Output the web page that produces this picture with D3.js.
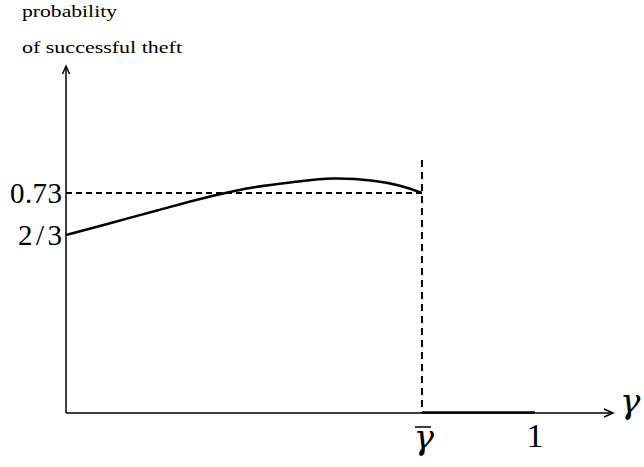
<!DOCTYPE html>
<html>
<head>
  <meta charset="utf-8">
  <script src="https://d3js.org/d3.v7.min.js"></script>
  <style>
    body { margin: 0; background: #fff; }
    text { font-family: "Liberation Serif", "Times New Roman", serif; fill: #000; }
    text.greek { font-family: "DejaVu Serif", serif; font-style: italic; }
    .curve { fill: none; stroke: #000; stroke-width: 2.5px; }
    .dash { fill: none; stroke: #000; stroke-width: 2px; }
    .axis { stroke: #000; stroke-width: 1.5px; fill: none; }
  </style>
</head>
<body>
<script>
  // gamma (0..1) and probability of a successful theft
  const gammaBar = 0.759;
  const gammaVals = [0, 0.094, 0.194, 0.286, 0.335, 0.392, 0.478, 0.569, 0.655, 0.712, gammaBar];
  const probVals = [0.6667, 0.6845, 0.7036, 0.7210, 0.7292, 0.7375, 0.7458, 0.7518, 0.7485, 0.7410, 0.73];
  // beyond gamma bar the probability drops to zero
  const zeroGamma = [gammaBar, 1];
  const yTicks = [{ v: 2 / 3, label: "2/3", w: 44 }, { v: 0.73, label: "0.73", w: 52 }];

  const width = 644, height = 467;
  const svg = d3.select("body").append("svg")
      .attr("width", width)
      .attr("height", height);

  const x = d3.scaleLinear().domain([0, 1]).range([66, 535]);
  // schematic axis: piecewise scale, zero sits on the horizontal axis
  const y = d3.scaleLinear().domain([0, 2 / 3, 0.73]).range([413, 235, 193]);

  // axes
  svg.append("line").attr("class", "axis")
    .attr("x1", x(0)).attr("y1", y(0)).attr("x2", x(0)).attr("y2", 67);
  svg.append("path").attr("class", "axis")
    .attr("d", `M${x(0) - 3.5},74 L${x(0)},66 L${x(0) + 3.5},74`);
  svg.append("line").attr("class", "axis")
    .attr("x1", x(0)).attr("y1", y(0)).attr("x2", 612).attr("y2", y(0));
  svg.append("path").attr("class", "axis")
    .attr("d", `M604,${y(0) - 4} L613,${y(0)} L604,${y(0) + 4}`);

  // dashed guides
  svg.append("line").attr("class", "dash")
    .attr("stroke-dasharray", "6,4")
    .attr("x1", x(0)).attr("x2", x(gammaBar))
    .attr("y1", y(0.73)).attr("y2", y(0.73));
  svg.append("line").attr("class", "dash")
    .attr("stroke-dasharray", "7,5")
    .attr("x1", x(gammaBar)).attr("x2", x(gammaBar))
    .attr("y1", 160).attr("y2", y(0));

  // the curve
  const pts = gammaVals.map((g, i) => [g, probVals[i]]);
  svg.append("path").attr("class", "curve")
    .attr("d", d3.line().x(d => x(d[0])).y(d => y(d[1])).curve(d3.curveCatmullRom)(pts));

  // zero segment on the axis
  svg.append("line")
    .attr("stroke", "#000").attr("stroke-width", 2.5)
    .attr("x1", x(zeroGamma[0])).attr("x2", x(zeroGamma[1]))
    .attr("y1", y(0) - 0.5).attr("y2", y(0) - 0.5);

  // y tick labels
  svg.selectAll(".ylab").data(yTicks).enter().append("text")
    .attr("class", "ylab")
    .attr("x", 62).attr("y", d => y(d.v) + 10)
    .attr("text-anchor", "end")
    .attr("textLength", d => d.w)
    .attr("lengthAdjust", "spacing")
    .style("font-size", "29px")
    .text(d => d.label);

  // x labels
  svg.append("text").attr("class", "greek")
    .attr("x", x(gammaBar) + 2).attr("y", 449)
    .attr("text-anchor", "middle")
    .style("font-size", "34px")
    .text("γ");
  svg.append("line")
    .attr("stroke", "#000").attr("stroke-width", 1.5)
    .attr("x1", x(gammaBar) - 7).attr("x2", x(gammaBar) + 9)
    .attr("y1", 427).attr("y2", 427);
  svg.append("text")
    .attr("x", x(1)).attr("y", 447)
    .attr("text-anchor", "middle")
    .style("font-size", "34px")
    .text("1");
  svg.append("text").attr("class", "greek")
    .attr("x", 620).attr("y", 413)
    .style("font-size", "34px")
    .text("γ");

  // y axis title
  svg.append("text").attr("x", 22).attr("y", 17)
    .attr("textLength", 95).attr("lengthAdjust", "spacingAndGlyphs")
    .style("font-size", "17px").text("probability");
  svg.append("text").attr("x", 22).attr("y", 53)
    .attr("textLength", 160).attr("lengthAdjust", "spacingAndGlyphs")
    .style("font-size", "17px").text("of successful theft");
</script>
</body>
</html>
